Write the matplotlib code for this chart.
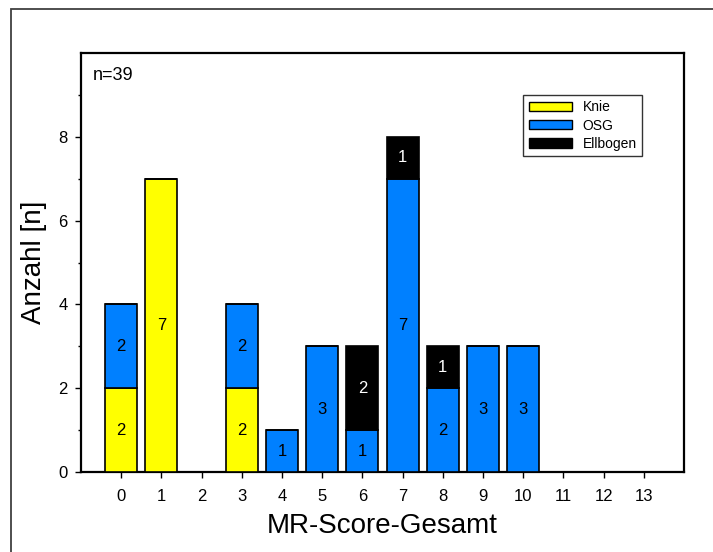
import matplotlib
matplotlib.use("Agg")
import matplotlib.pyplot as plt
from matplotlib.patches import Rectangle, Patch
import numpy as np

plt.rcParams['font.family'] = ['Liberation Sans', 'DejaVu Sans']

scores = [0, 1, 2, 3, 4, 5, 6, 7, 8, 9, 10, 11, 12, 13]
knie = [2, 7, 0, 2, 0, 0, 0, 0, 0, 0, 0, 0, 0, 0]
osg = [2, 0, 0, 2, 1, 3, 1, 7, 2, 3, 3, 0, 0, 0]
ellbogen = [0, 0, 0, 0, 0, 0, 2, 1, 1, 0, 0, 0, 0, 0]
series_names = ['Knie', 'OSG', 'Ellbogen']
colors = ['#FFFF00', '#0080FF', '#000000']
text_colors = ['black', 'black', 'white']
n_text = 'n=39'
xlabel = 'MR-Score-Gesamt'
ylabel = 'Anzahl [n]'

fig = plt.figure(figsize=(7.13, 5.52), dpi=100)
ax = fig.add_axes([81/713, 80/552, 603/713, 419/552])

# outer frame (cropped at right/bottom)
fig.patches.append(Rectangle((11/713, -0.2), 1.2, 1.2 - 9/552 + 0.0,
                             transform=fig.transFigure, fill=False,
                             edgecolor='#404040', linewidth=1.3, zorder=0))

x = np.array(scores)
bottom = np.zeros(len(scores))
for vals, name, col, tcol in zip([knie, osg, ellbogen], series_names, colors, text_colors):
    vals = np.array(vals, dtype=float)
    ax.bar(x, vals, width=0.8, bottom=bottom, color=col, edgecolor='black',
           linewidth=1.2, zorder=3)
    for xi, b, v in zip(x, bottom, vals):
        if v > 0:
            ax.text(xi, b + v / 2, str(int(v)), ha='center', va='center',
                    fontsize=12, color=tcol, zorder=4)
    bottom += vals

ax.set_xlim(-1, 14)
ax.set_ylim(0, 10)
ax.set_xticks(scores)
ax.set_xticklabels([str(s) for s in scores])
ax.set_yticks([0, 2, 4, 6, 8])
ax.set_yticks([1, 3, 5, 7, 9], minor=True)
ax.tick_params(axis='both', which='major', direction='out', length=4.5, width=1,
               labelsize=12)
ax.tick_params(axis='x', which='major', pad=8)
ax.tick_params(axis='y', which='major', pad=5)
ax.tick_params(axis='y', which='minor', direction='out', length=2.5, width=1)
for sp in ax.spines.values():
    sp.set_linewidth(1.6)

ax.set_xlabel(xlabel, fontsize=20, labelpad=6)
ax.set_ylabel(ylabel, fontsize=20, labelpad=8)

ax.text(0.019, 0.947, n_text, transform=ax.transAxes, fontsize=13,
        ha='left', va='center')

handles = [Patch(facecolor=c, edgecolor='black', linewidth=1.0) for c in colors]
leg = ax.legend(handles, series_names, loc='upper left',
                bbox_to_anchor=(0.733, 0.900), borderaxespad=0,
                fontsize=10, handlelength=3.1, handleheight=0.65,
                handletextpad=0.8, labelspacing=0.3, borderpad=0.4,
                fancybox=False, frameon=True)
leg.get_frame().set_edgecolor('black')
leg.get_frame().set_linewidth(1.0)

fig.savefig('out.png', dpi=100)
